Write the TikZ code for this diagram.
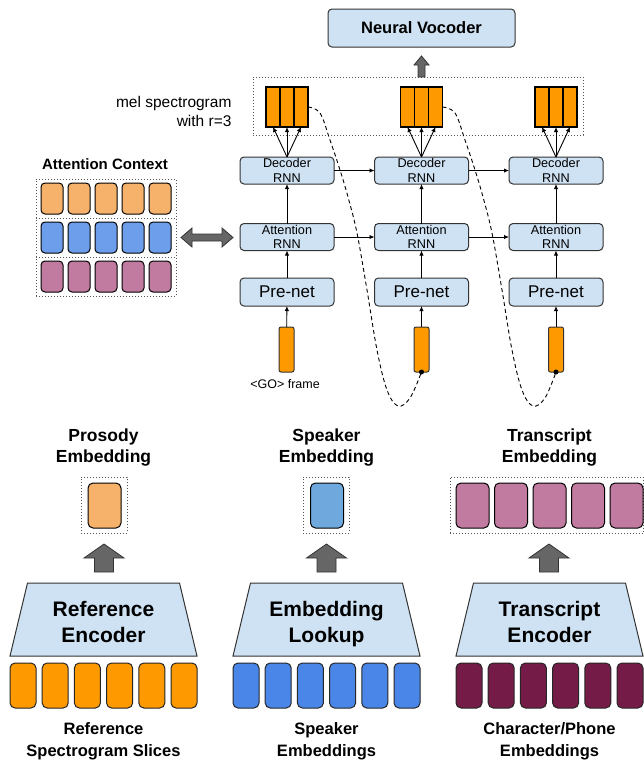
\documentclass[tikz,border=0pt]{standalone}
\usepackage{fontspec}
\setmainfont{Liberation Sans}
\usetikzlibrary{arrows.meta}
\definecolor{boxblue}{HTML}{CFE2F3}
\definecolor{edge}{HTML}{333333}
\definecolor{orangeA}{HTML}{FF9900}
\definecolor{orangeL}{HTML}{F6B26B}
\definecolor{blueA}{HTML}{4A86E8}
\definecolor{blueL}{HTML}{6D9EEB}
\definecolor{blueS}{HTML}{6FA8DC}
\definecolor{purpA}{HTML}{741B47}
\definecolor{purpL}{HTML}{C27BA0}
\definecolor{arrowgray}{HTML}{666666}
\definecolor{dotgray}{HTML}{555555}
\begin{document}
\begin{tikzpicture}[x=1pt,y=-1pt,
 rnnbox/.style={draw=edge, fill=boxblue, line width=1pt, rounded corners=4pt, minimum width=94pt, inner sep=0pt, outer sep=0pt, align=center},
 smallrnn/.style={rnnbox, minimum height=27pt, font=\fontsize{12.7}{14.5}\selectfont},
 prenet/.style={rnnbox, minimum height=28pt, font=\fontsize{17}{20}\selectfont},
 melcell/.style={draw=black, fill=orangeA, line width=1.2pt, minimum width=14pt, minimum height=40pt, inner sep=0pt, outer sep=0pt},
 goframe/.style={draw=edge, fill=orangeA, line width=1pt, rounded corners=2pt, minimum width=15pt, minimum height=45pt, inner sep=0pt, outer sep=0pt},
 ctxcell/.style={draw=black, line width=1pt, rounded corners=4pt, minimum width=22pt, minimum height=31pt, inner sep=0pt},
 embcell/.style={draw=black, line width=1pt, rounded corners=5pt, minimum width=33pt, minimum height=45pt, inner sep=0pt},
 incell/.style={draw=black!85, line width=1pt, rounded corners=5pt, minimum width=26pt, minimum height=45pt, inner sep=0pt},
 dotbox/.style={draw=dotgray, line width=0.9pt, dash pattern=on 1pt off 2pt, inner sep=0pt, outer sep=0pt},
 conn/.style={draw=black, line width=0.9pt, -{Latex[length=5pt,width=4.5pt]}},
 dashloop/.style={draw=black, line width=0.9pt, dash pattern=on 4pt off 3pt},
 blockarrow/.style={fill=arrowgray, draw=edge, line width=0.8pt},
 trap/.style={fill=boxblue, draw=edge, line width=1pt},
 bigbold/.style={font=\fontsize{21}{26}\selectfont\bfseries, align=center},
 lab/.style={font=\fontsize{17.5}{21}\selectfont\bfseries, align=center},
 sublab/.style={font=\fontsize{16.5}{22}\selectfont\bfseries, align=center},
 uparr/.pic={\draw[blockarrow] (-9.5,0) -- (-9.5,-14) -- (-20,-14) -- (0,-28) -- (20,-14) -- (9.5,-14) -- (9.5,0) -- cycle;},
 trapz/.pic={\draw[trap] (-76,0) -- (76,0) -- (93.5,73) -- (-93.5,73) -- cycle;},
]
\useasboundingbox (0,0) rectangle (644,761);

% ---------- decoder part ----------
\node[rnnbox, minimum width=187pt, minimum height=38pt, font=\fontsize{16.5}{20}\selectfont\bfseries] (voc) at (421.5,28) {Neural Vocoder};
\node[dotbox, minimum width=330pt, minimum height=58pt] (melbox) at (418,106) {};
\draw[blockarrow] (418,77) -- (418,65) -- (414,65) -- (421.5,56) -- (429,65) -- (425,65) -- (425,77) -- cycle;

\node[anchor=east, align=right, font=\fontsize{15.5}{19}\selectfont] (mellab) at (235,111.5) {mel spectrogram\\with r=3};

\node[melcell] (m1a) at (273,107) {};
\node[melcell] (m1b) at (287,107) {};
\node[melcell] (m1c) at (301,107) {};
\node[melcell] (m2a) at (407.5,107) {};
\node[melcell] (m2b) at (421.5,107) {};
\node[melcell] (m2c) at (435.5,107) {};
\node[melcell] (m3a) at (542,107) {};
\node[melcell] (m3b) at (556,107) {};
\node[melcell] (m3c) at (570,107) {};

\node[smallrnn] (d1) at (287,170.5) {Decoder\\RNN};
\node[smallrnn] (d2) at (421.5,170.5) {Decoder\\RNN};
\node[smallrnn] (d3) at (556,170.5) {Decoder\\RNN};
\node[smallrnn] (a1) at (287,237) {Attention\\RNN};
\node[smallrnn] (a2) at (421.5,237) {Attention\\RNN};
\node[smallrnn] (a3) at (556,237) {Attention\\RNN};
\node[prenet] (p1) at (287,292) {Pre-net};
\node[prenet] (p2) at (421.5,292) {Pre-net};
\node[prenet] (p3) at (556,292) {Pre-net};
\node[goframe] (f1) at (286.5,349.5) {};
\node[goframe] (f2) at (421.5,349.5) {};
\node[goframe] (f3) at (556,349.5) {};
\node[font=\fontsize{12.5}{15}\selectfont] (go) at (285,384) {<GO> frame};

\foreach \c in {1,2,3}{
  \draw[conn] (f\c) -- (p\c);
  \draw[conn] (p\c) -- (a\c);
  \draw[conn] (a\c) -- (d\c);
  \draw[conn] (d\c.north) -- (m\c a.south);
  \draw[conn] (d\c.north) -- (m\c b.south);
  \draw[conn] (d\c.north) -- (m\c c.south);
}
\draw[conn] (a1) -- (a2);
\draw[conn] (a2) -- (a3);
\draw[conn] (d1) -- (d2);
\draw[conn] (d2) -- (d3);

\draw[dashloop] plot[smooth, tension=0.6] coordinates {(m1c.east) (320,113) (330,140) (340,170) (348,197) (357,233) (367,290) (377,350) (387,390) (398,406) (410,398) (f2.south)};
\draw[dashloop] plot[smooth, tension=0.6] coordinates {(m2c.east) (455,113) (465,140) (475,170) (483,197) (492,233) (502,290) (512,350) (522,390) (533,406) (545,398) (f3.south)};
\fill (f2.south) circle (2.5pt);
\fill (f3.south) circle (2.5pt);

% ---------- attention context ----------
\node[font=\fontsize{15}{18}\selectfont\bfseries] (ctxlab) at (105,164) {Attention Context};
\node[dotbox, minimum width=140pt, minimum height=39pt] (r1) at (106,198.5) {};
\node[dotbox, minimum width=140pt, minimum height=39pt] (r2) at (106,237.5) {};
\node[dotbox, minimum width=140pt, minimum height=39pt] (r3) at (106,276.5) {};
\foreach \x [count=\i] in {52,79,106,133,160}{
  \node[ctxcell, fill=orangeL] (co\i) at (\x,198.5) {};
  \node[ctxcell, fill=blueL] (cb\i) at (\x,237.5) {};
  \node[ctxcell, fill=purpL] (cp\i) at (\x,276.5) {};
}
\draw[blockarrow] (181,237.5) -- (192,228) -- (192,234) -- (222,234) -- (222,228) -- (233,237.5) -- (222,247) -- (222,241) -- (192,241) -- (192,247) -- cycle;

% ---------- embeddings ----------
\node[lab] (prolab) at (103.5,447.5) {Prosody\\Embedding};
\node[lab] (spklab) at (326.5,447.5) {Speaker\\Embedding};
\node[lab] (trlab) at (549.5,447.5) {Transcript\\Embedding};

\node[dotbox, minimum width=46pt, minimum height=56pt] (prodot) at (104,505) {};
\node[embcell, fill=orangeL] (pro) at (104.5,505.5) {};
\node[dotbox, minimum width=46pt, minimum height=56pt] (spkdot) at (326,505) {};
\node[embcell, fill=blueS] (spk) at (327,505.5) {};
\node[dotbox, minimum width=193.5pt, minimum height=56pt] (trdot) at (546.75,505) {};
\foreach \x [count=\i] in {472.5,511,549.5,588,626.5}{
  \node[embcell, fill=purpL] (tr\i) at (\x,505.5) {};
}

\pic at (104,572) {uparr};
\pic at (326.5,572) {uparr};
\pic at (549,572) {uparr};

% ---------- encoders ----------
\pic at (103.5,583) {trapz};
\pic at (326.5,583) {trapz};
\pic at (549.5,583) {trapz};
\node[bigbold] (refenc) at (103.5,624.4) {Reference\strut\\Encoder\strut};
\node[bigbold] (emblk) at (326.5,624.4) {Embedding\strut\\Lookup\strut};
\node[bigbold] (trenc) at (549.5,624.4) {Transcript\strut\\Encoder\strut};

\foreach \o [count=\i] in {-80.5,-48.3,-16.1,16.1,48.3,80.5}{
  \node[incell, fill=orangeA] (ri\i) at (103.5+\o,685.5) {};
  \node[incell, fill=blueA] (si\i) at (326.5+\o,685.5) {};
  \node[incell, fill=purpA] (ti\i) at (549.5+\o,685.5) {};
}

\node[sublab] (reflab) at (103.5,741) {Reference\\Spectrogram Slices};
\node[sublab] (spkinlab) at (326.5,741) {Speaker\\Embeddings};
\node[sublab] (chlab) at (549.5,741) {Character/Phone\\Embeddings};
\end{tikzpicture}
\end{document}
